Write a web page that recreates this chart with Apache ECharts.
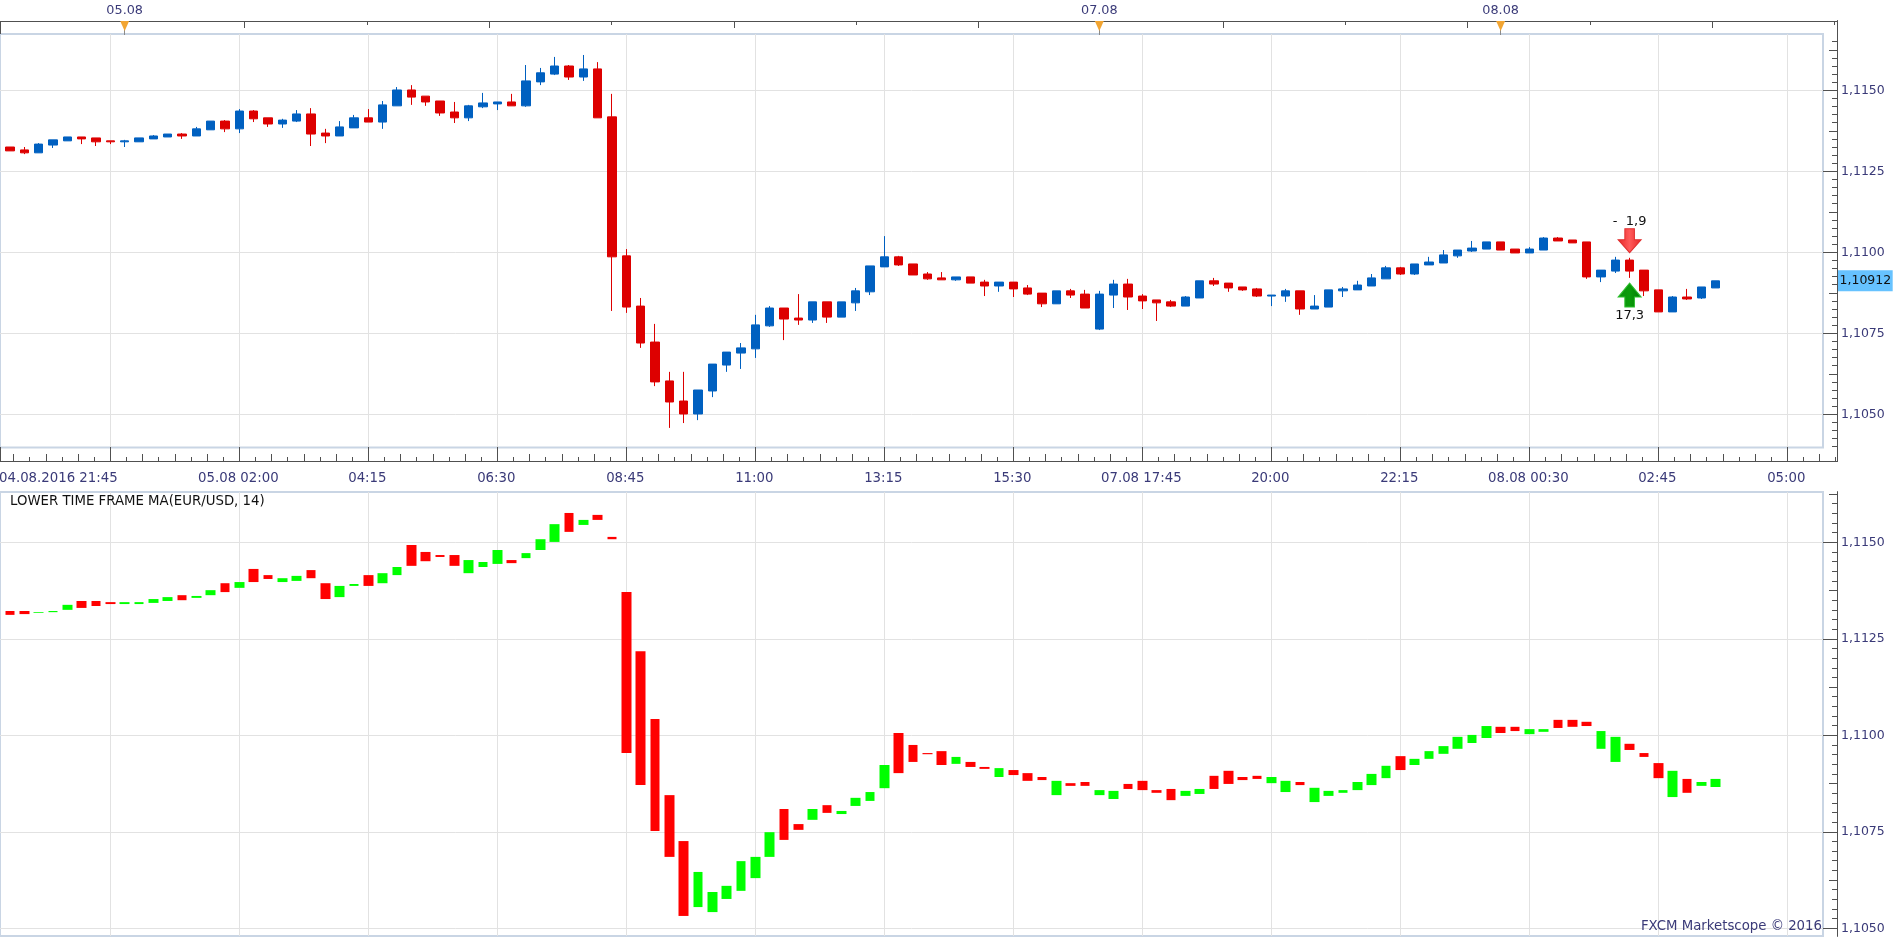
<!DOCTYPE html>
<html>
<head>
<meta charset="utf-8">
<title>EUR/USD</title>
<script src="https://cdn.jsdelivr.net/npm/echarts@6/dist/echarts.min.js"></script>
<style>
html,body{margin:0;padding:0;background:#fff;overflow:hidden}
#chart{width:1903px;height:937px}
</style>
</head>
<body>
<div id="chart"></div>
<script>
// EUR/USD 15-minute candles
const priceOpen = [
1.11325,1.11316,1.11307,1.11331,1.11344,1.11356,1.11353,1.11344,1.11341,1.11341,
1.11350,1.11356,1.11365,1.11359,1.11378,1.11405,1.11381,1.11436,1.11415,1.11396,
1.11405,1.11427,1.11368,1.11359,1.11384,1.11415,1.11402,1.11452,1.11501,1.11482,
1.11467,1.11433,1.11415,1.11449,1.11458,1.11464,1.11452,1.11526,1.11550,1.11575,
1.11541,1.11566,1.11418,1.10989,1.10834,1.10723,1.10603,1.10541,1.10501,1.10572,
1.10652,1.10689,1.10702,1.10773,1.10828,1.10797,1.10791,1.10847,1.10800,1.10844,
1.10878,1.10955,1.10986,1.10964,1.10933,1.10921,1.10915,1.10924,1.10908,1.10896,
1.10908,1.10890,1.10874,1.10841,1.10881,1.10871,1.10763,1.10868,1.10902,1.10865,
1.10853,1.10847,1.10834,1.10859,1.10912,1.10905,1.10893,1.10887,1.10865,1.10865,
1.10881,1.10825,1.10831,1.10881,1.10884,1.10896,1.10918,1.10952,1.10933,1.10961,
1.10967,1.10989,1.11004,1.11010,1.11032,1.11010,1.10998,1.11007,1.11044,1.11038,
1.11032,1.10924,1.10942,1.10976,1.10945,1.10884,1.10816,1.10862,1.10859,1.10890];
const priceClose = [
1.11313,1.11307,1.11334,1.11347,1.11356,1.11350,1.11341,1.11341,1.11344,1.11353,
1.11359,1.11365,1.11359,1.11381,1.11405,1.11381,1.11436,1.11412,1.11396,1.11408,
1.11427,1.11365,1.11359,1.11387,1.11415,1.11402,1.11455,1.11501,1.11479,1.11464,
1.11430,1.11415,1.11452,1.11461,1.11464,1.11452,1.11529,1.11554,1.11575,1.11541,
1.11566,1.11415,1.10986,1.10831,1.10720,1.10600,1.10538,1.10501,1.10575,1.10655,
1.10692,1.10705,1.10776,1.10828,1.10794,1.10791,1.10847,1.10800,1.10847,1.10881,
1.10958,1.10986,1.10961,1.10930,1.10918,1.10915,1.10924,1.10905,1.10896,1.10908,
1.10887,1.10871,1.10841,1.10881,1.10868,1.10828,1.10871,1.10902,1.10862,1.10850,
1.10844,1.10834,1.10862,1.10912,1.10902,1.10890,1.10884,1.10865,1.10868,1.10881,
1.10825,1.10834,1.10884,1.10887,1.10899,1.10921,1.10952,1.10933,1.10964,1.10970,
1.10992,1.11007,1.11013,1.11032,1.11007,1.10998,1.11010,1.11044,1.11035,1.11029,
1.10924,1.10945,1.10976,1.10942,1.10881,1.10816,1.10862,1.10856,1.10893,1.10912];
const priceLow = [
1.11313,1.11303,1.11307,1.11322,1.11344,1.11334,1.11328,1.11334,1.11325,1.11341,
1.11350,1.11356,1.11350,1.11359,1.11378,1.11371,1.11368,1.11402,1.11387,1.11384,
1.11402,1.11328,1.11337,1.11359,1.11384,1.11402,1.11381,1.11452,1.11455,1.11452,
1.11421,1.11399,1.11405,1.11445,1.11439,1.11452,1.11449,1.11516,1.11547,1.11532,
1.11529,1.11415,1.10819,1.10813,1.10705,1.10587,1.10458,1.10473,1.10482,1.10553,
1.10631,1.10640,1.10674,1.10770,1.10729,1.10776,1.10782,1.10782,1.10800,1.10819,
1.10868,1.10955,1.10958,1.10930,1.10915,1.10915,1.10912,1.10905,1.10865,1.10878,
1.10862,1.10868,1.10831,1.10841,1.10859,1.10828,1.10760,1.10828,1.10822,1.10825,
1.10788,1.10831,1.10834,1.10859,1.10896,1.10878,1.10881,1.10862,1.10834,1.10847,
1.10807,1.10825,1.10831,1.10862,1.10884,1.10896,1.10918,1.10930,1.10930,1.10961,
1.10967,1.10983,1.11001,1.11010,1.11007,1.10998,1.10998,1.11007,1.11035,1.11029,
1.10918,1.10908,1.10936,1.10921,1.10865,1.10816,1.10816,1.10853,1.10856,1.10890];
const priceHigh = [
1.11325,1.11325,1.11337,1.11347,1.11356,1.11356,1.11353,1.11344,1.11347,1.11353,
1.11362,1.11365,1.11368,1.11387,1.11405,1.11408,1.11442,1.11439,1.11415,1.11412,
1.11439,1.11445,1.11381,1.11405,1.11424,1.11442,1.11467,1.11510,1.11516,1.11482,
1.11467,1.11464,1.11455,1.11492,1.11464,1.11489,1.11578,1.11569,1.11603,1.11578,
1.11609,1.11587,1.11489,1.11010,1.10859,1.10779,1.10631,1.10631,1.10575,1.10655,
1.10692,1.10720,1.10807,1.10834,1.10828,1.10871,1.10847,1.10847,1.10847,1.10890,
1.10958,1.11050,1.10989,1.10964,1.10939,1.10939,1.10924,1.10924,1.10915,1.10908,
1.10908,1.10899,1.10874,1.10881,1.10887,1.10884,1.10881,1.10915,1.10918,1.10871,
1.10853,1.10853,1.10865,1.10912,1.10921,1.10905,1.10893,1.10890,1.10868,1.10887,
1.10881,1.10868,1.10884,1.10893,1.10912,1.10933,1.10958,1.10955,1.10964,1.10986,
1.11007,1.11007,1.11035,1.11032,1.11032,1.11010,1.11016,1.11047,1.11047,1.11038,
1.11032,1.10945,1.10986,1.10983,1.10945,1.10884,1.10865,1.10887,1.10893,1.10912];

// Lower time frame moving-average bars
const maOpen = [
1.11322,1.11322,1.11317,1.11319,1.11325,1.11348,1.11348,1.11345,1.11340,1.11340,
1.11343,1.11348,1.11363,1.11356,1.11363,1.11394,1.11382,1.11431,1.11415,1.11397,
1.11400,1.11428,1.11394,1.11358,1.11387,1.11415,1.11394,1.11415,1.11493,1.11475,
1.11467,1.11467,1.11420,1.11436,1.11444,1.11454,1.11459,1.11480,1.11501,1.11576,
1.11545,1.11571,1.11514,1.11371,1.11218,1.11042,1.10845,1.10726,1.10555,1.10542,
1.10576,1.10597,1.10630,1.10685,1.10809,1.10770,1.10781,1.10819,1.10796,1.10817,
1.10830,1.10863,1.11006,1.10975,1.10954,1.10959,1.10926,1.10931,1.10918,1.10892,
1.10910,1.10902,1.10892,1.10845,1.10876,1.10879,1.10845,1.10835,1.10874,1.10882,
1.10858,1.10861,1.10843,1.10848,1.10895,1.10908,1.10892,1.10895,1.10876,1.10853,
1.10879,1.10827,1.10843,1.10851,1.10858,1.10871,1.10889,1.10946,1.10923,1.10939,
1.10952,1.10965,1.10980,1.10993,1.11022,1.11022,1.11003,1.11009,1.11040,1.11040,
1.11035,1.10965,1.10931,1.10978,1.10954,1.10928,1.10840,1.10887,1.10869,1.10866];
const maClose = [
1.11312,1.11314,1.11319,1.11322,1.11338,1.11330,1.11335,1.11340,1.11345,1.11345,
1.11353,1.11358,1.11350,1.11361,1.11376,1.11371,1.11397,1.11397,1.11405,1.11407,
1.11413,1.11407,1.11353,1.11387,1.11392,1.11387,1.11420,1.11436,1.11439,1.11451,
1.11462,1.11439,1.11454,1.11449,1.11480,1.11446,1.11472,1.11508,1.11547,1.11527,
1.11558,1.11558,1.11508,1.10954,1.10871,1.10752,1.10685,1.10532,1.10646,1.10594,
1.10610,1.10674,1.10685,1.10749,1.10729,1.10755,1.10809,1.10799,1.10804,1.10838,
1.10853,1.10923,1.10902,1.10931,1.10951,1.10923,1.10944,1.10918,1.10913,1.10915,
1.10897,1.10882,1.10884,1.10882,1.10869,1.10869,1.10858,1.10856,1.10861,1.10858,
1.10851,1.10832,1.10856,1.10861,1.10861,1.10874,1.10884,1.10887,1.10892,1.10882,
1.10871,1.10864,1.10856,1.10858,1.10879,1.10900,1.10921,1.10910,1.10939,1.10959,
1.10972,1.10996,1.11001,1.11024,1.11006,1.11011,1.11016,1.11016,1.11019,1.11022,
1.11024,1.11011,1.10996,1.10962,1.10944,1.10889,1.10908,1.10851,1.10879,1.10887];

// Time axis, gridlines every nine candles
const timeLabels = ['04.08.2016 21:45','05.08 02:00','04:15','06:30','08:45','11:00','13:15','15:30','07.08 17:45','20:00','22:15','08.08 00:30','02:45','05:00'];
const firstTimeCandle = 7;
const candlesPerLabel = 9;

// Session date flags on the upper ruler
const dateFlagCandles = [8, 76, 104];
const dateFlagTexts = ['05.08', '07.08', '08.08'];

// Order signals around the 02:15 candle
const signalCandle = 113;
const signalPrices = [1.11036, 1.10868];
const signalTexts = ['-  1,9', '17,3'];

// Panel layout
const PX_FIRST = 10, PX_STEP = 14.333;
const PLOT_RIGHT = 1823, AXIS_RIGHT = 1837;
const upper = {top: 34, bottom: 447.5, frameTop: 21, frameBottom: 461, refY: 252.3, pxPerUnit: 32400};
const lower = {top: 492, bottom: 936, frameTop: 492, frameBottom: 936, refY: 735.3, pxPerUnit: 38600};
const REF_PRICE = 1.11;

const FONT = '"DejaVu Sans", Verdana, sans-serif';
const TEXT_NAVY = '#3a3a78', AXIS_DARK = '#505050', GRID = '#e2e2e2', FRAME = '#c9d5e4';
const BLUE = '#0060c0', DARK_RED = '#dd0000', RED = '#ff0000', GREEN = '#00ff00';

const pxToCandle = x => (x - PX_FIRST) / PX_STEP;
const pxToPrice = (p, y) => REF_PRICE + (p.refY - y) / p.pxPerUnit;
const fmt = (v, d) => v.toFixed(d).replace('.', ',');

const gridCandles = timeLabels.map((_, k) => firstTimeCandle + k * candlesPerLabel);
const majorPrices = [1.105, 1.1075, 1.11, 1.1125, 1.115];

// Quarter-pip ruler steps, split into major, half and plain ticks
function priceTicks(p) {
  const lo = pxToPrice(p, p.bottom), hi = pxToPrice(p, p.top);
  const out = {mid: [], minor: []};
  for (let k = Math.ceil(lo / 0.00025); k * 0.00025 <= hi; k++) {
    if (k % 10 === 0) continue;
    (k % 5 === 0 ? out.mid : out.minor).push(k * 0.00025);
  }
  return out;
}

function rulerX(gridIndex, position, values, length, color) {
  return {
    type: 'value', gridIndex, position,
    min: pxToCandle(0), max: pxToCandle(AXIS_RIGHT),
    axisLine: {show: true, onZero: false, lineStyle: {color: AXIS_DARK, width: 1}},
    axisTick: {show: true, inside: true, length, customValues: values, lineStyle: {color: color || AXIS_DARK, width: 1}},
    axisLabel: {show: false}, splitLine: {show: false}
  };
}

function rulerY(gridIndex, p, values, length, label) {
  return {
    type: 'value', gridIndex, position: 'right',
    min: pxToPrice(p, p.frameBottom), max: pxToPrice(p, p.frameTop),
    axisLine: {show: true, onZero: false, lineStyle: {color: AXIS_DARK, width: 1}},
    axisTick: {show: length > 0, inside: true, length, customValues: values, lineStyle: {color: AXIS_DARK, width: 1}},
    axisLabel: label || {show: false},
    splitLine: {show: false}
  };
}

const plotX = gridIndex => ({
  type: 'value', gridIndex,
  min: pxToCandle(0), max: pxToCandle(PLOT_RIGHT),
  axisLine: {show: false}, axisLabel: {show: false},
  axisTick: {show: false, customValues: gridCandles},
  splitLine: {show: true, lineStyle: {color: GRID, width: 1}}
});
const plotY = (gridIndex, p) => ({
  type: 'value', gridIndex, position: 'right',
  min: pxToPrice(p, p.bottom), max: pxToPrice(p, p.top),
  axisLine: {show: false}, axisLabel: {show: false},
  axisTick: {show: false, customValues: majorPrices},
  splitLine: {show: true, lineStyle: {color: GRID, width: 1}}
});

const priceLabel = {
  show: true, inside: false, margin: 4, color: TEXT_NAVY, fontFamily: FONT, fontSize: 12.5,
  padding: [4, 0, 0, 0],
  customValues: majorPrices, formatter: v => fmt(v, 4)
};

// Minor divisions of the two time rulers
const bottomLong = [], bottomShort = [];
for (let k = 2; k <= 120; k++) {
  const c = pxToCandle(110.3 - 129 + k * 16.125);
  if (c > pxToCandle(AXIS_RIGHT) || k % 8 === 0) continue;
  (k % 2 === 0 ? bottomLong : bottomShort).push(c);
}
const topLong = [], topShort = [];
for (let k = 1; k * 122.3 < AXIS_RIGHT; k++) {
  (k % 2 === 1 ? topShort : topLong).push(pxToCandle(k * 122.3));
}

const upTicks = priceTicks(upper), lowTicks = priceTicks(lower);
const lastClose = priceClose[priceClose.length - 1];

const xAxes = [
  plotX(0), plotX(1),
  // upper ruler
  rulerX(2, 'top', [pxToCandle(0)], 13),
  rulerX(2, 'top', topLong, 7),
  rulerX(2, 'top', topShort, 4),
  rulerX(2, 'top', dateFlagCandles, 14, '#8a8a8a'),
  // lower ruler with the time labels
  Object.assign(rulerX(2, 'bottom', [pxToCandle(0)].concat(gridCandles), 14), {
    axisLabel: {
      show: true, margin: 11, customValues: gridCandles, hideOverlap: false,
      color: TEXT_NAVY, fontFamily: FONT, fontSize: 13.3,
      showMinLabel: true, showMaxLabel: true,
      formatter: v => {
        const i = Math.round((v - firstTimeCandle) / candlesPerLabel);
        return (i === 0 ? '{first|' : '{rest|') + timeLabels[i] + '}';
      },
      rich: {
        first: {padding: [0, 104, 0, 0], color: TEXT_NAVY, fontFamily: FONT, fontSize: 13.3},
        rest: {padding: [0, 2, 0, 0], color: TEXT_NAVY, fontFamily: FONT, fontSize: 13.3}
      }
    }
  }),
  rulerX(2, 'bottom', bottomLong, 7),
  rulerX(2, 'bottom', bottomShort, 4),
  {type: 'value', gridIndex: 3, show: false, min: pxToCandle(0), max: pxToCandle(AXIS_RIGHT), splitLine: {show: false}}
];

const yAxes = [
  plotY(0, upper), plotY(1, lower),
  rulerY(2, upper, majorPrices, 14, priceLabel),
  rulerY(2, upper, upTicks.mid, 8),
  rulerY(2, upper, upTicks.minor, 5),
  rulerY(2, upper, [lastClose], 0, {
    show: true, margin: 1, customValues: [lastClose], color: '#101010', fontFamily: FONT, fontSize: 12.5,
    backgroundColor: '#66c2ff', padding: [5, 1.5, 3, 1.5], formatter: v => fmt(v, 5)
  }),
  rulerY(3, lower, majorPrices, 14, priceLabel),
  rulerY(3, lower, lowTicks.mid, 8),
  rulerY(3, lower, lowTicks.minor, 5)
];

const arrowDown = 'path://M7 0H17V11H24L12 24 0 11H7Z';
const arrowUp = 'path://M12 0 24 14H17V24H7V14H0Z';

const chart = echarts.init(document.getElementById('chart'), null, {renderer: 'canvas'});
chart.setOption({
  animation: false,
  backgroundColor: '#ffffff',
  title: [
    {text: 'LOWER TIME FRAME MA(EUR/USD, 14)', left: 10, top: 495, padding: 0,
     textStyle: {fontFamily: FONT, fontSize: 13.3, fontWeight: 'normal', color: '#111'}},
    {text: 'FXCM Marketscope © 2016', right: 1903 - 1822, top: 920, padding: 0,
     textStyle: {fontFamily: FONT, fontSize: 13.3, fontWeight: 'normal', color: TEXT_NAVY}}
  ],
  grid: [
    {left: 0, width: PLOT_RIGHT, top: upper.top, height: upper.bottom - upper.top, show: true, borderColor: FRAME, borderWidth: 2, backgroundColor: 'transparent', outerBoundsMode: 'none'},
    {left: 0, width: PLOT_RIGHT, top: lower.top, height: lower.bottom - lower.top, show: true, borderColor: FRAME, borderWidth: 2, backgroundColor: 'transparent', outerBoundsMode: 'none'},
    {left: 0, width: AXIS_RIGHT, top: upper.frameTop, height: upper.frameBottom - upper.frameTop, outerBoundsMode: 'none'},
    {left: 0, width: AXIS_RIGHT, top: lower.frameTop, height: lower.frameBottom - lower.frameTop, outerBoundsMode: 'none'}
  ],
  xAxis: xAxes,
  yAxis: yAxes,
  series: [
    {
      name: 'EUR/USD', type: 'candlestick', xAxisIndex: 0, yAxisIndex: 0, barWidth: 9, clip: false,
      data: priceOpen.map((o, i) => [i, o, priceClose[i], priceLow[i], priceHigh[i]]),
      itemStyle: {color: BLUE, color0: DARK_RED, borderColor: BLUE, borderColor0: DARK_RED, borderWidth: 1}
    },
    {
      name: 'LOWER TIME FRAME MA', type: 'candlestick', xAxisIndex: 1, yAxisIndex: 1, barWidth: 10, clip: false,
      data: maOpen.map((o, i) => [i, o, maClose[i], Math.min(o, maClose[i]), Math.max(o, maClose[i])]),
      itemStyle: {color: GREEN, color0: RED, borderColor: GREEN, borderColor0: RED, borderWidth: 0}
    },
    {
      name: 'Dates', type: 'scatter', xAxisIndex: 2, yAxisIndex: 2, clip: false, z: 5,
      symbol: 'triangle', symbolRotate: 180, symbolSize: [9, 10], symbolOffset: [0, 5],
      data: dateFlagCandles.map((c, i) => ({value: [c, yAxes[2].max], flag: dateFlagTexts[i]})),
      itemStyle: {color: '#f2a532', opacity: 1},
      label: {show: true, position: 'inside', offset: [0, -15], color: TEXT_NAVY, fontFamily: FONT, fontSize: 12.8,
              formatter: p => p.data.flag}
    },
    {
      name: 'Sell', type: 'scatter', xAxisIndex: 0, yAxisIndex: 0, clip: false, z: 6,
      symbol: arrowDown, symbolSize: [23, 24],
      data: [[signalCandle, signalPrices[0]]],
      itemStyle: {
        opacity: 1,
        color: new echarts.graphic.LinearGradient(0, 0, 1, 0, [
          {offset: 0, color: '#e62626'}, {offset: 0.5, color: '#ff5a5a'}, {offset: 1, color: '#e62626'}
        ]),
        borderColor: '#e03030', borderWidth: 1
      },
      label: {show: true, position: 'top', distance: 0, color: '#111', fontFamily: FONT, fontSize: 13, formatter: signalTexts[0]}
    },
    {
      name: 'Buy', type: 'scatter', xAxisIndex: 0, yAxisIndex: 0, clip: false, z: 6,
      symbol: arrowUp, symbolSize: [23, 24],
      data: [[signalCandle, signalPrices[1]]],
      itemStyle: {
        opacity: 1,
        color: new echarts.graphic.LinearGradient(0, 0, 1, 0, [
          {offset: 0, color: '#0b8f0b'}, {offset: 0.5, color: '#0a9c0a'}, {offset: 1, color: '#057a05'}
        ]),
        borderColor: '#2fbf2f', borderWidth: 1
      },
      label: {show: true, position: 'bottom', distance: 2, color: '#111', fontFamily: FONT, fontSize: 13, formatter: signalTexts[1]}
    }
  ]
});
</script>
</body>
</html>
